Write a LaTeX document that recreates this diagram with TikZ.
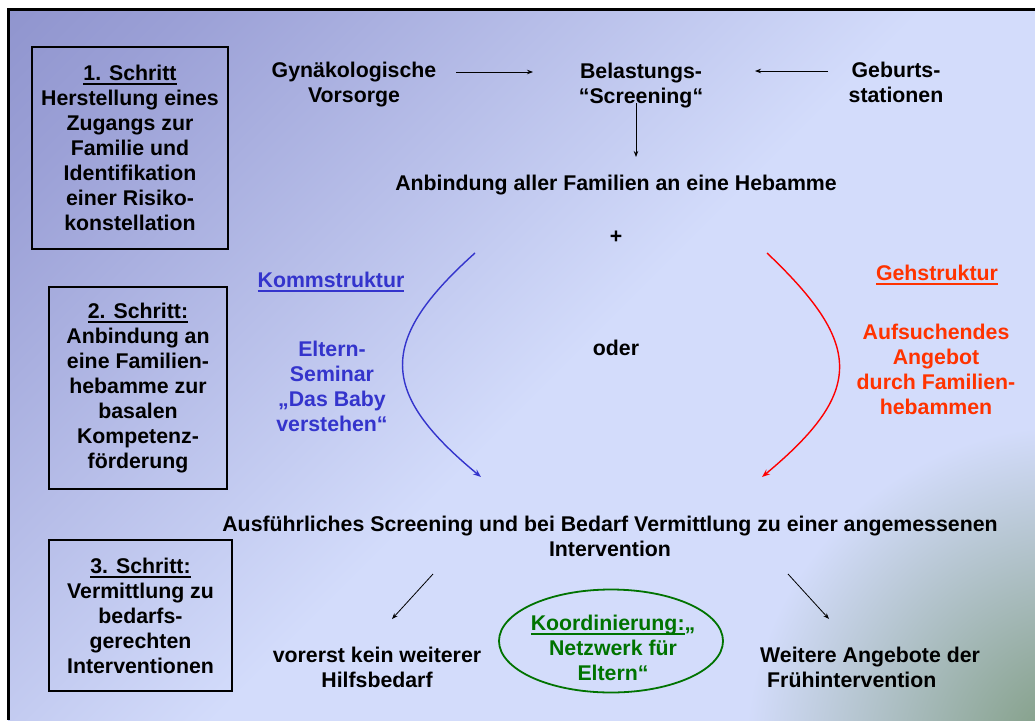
\documentclass[tikz,border=0pt]{standalone}
\usepackage{fontspec}
\setmainfont{Liberation Sans}
\usepackage{xcolor}
\usetikzlibrary{calc}
\usetikzlibrary{shapes.geometric}
\usetikzlibrary{arrows.meta}
\pgfdeclarelayer{bg}
\pgfsetlayers{bg,main}
\definecolor{bgdeep}{HTML}{7A7FBF}
\definecolor{bgdark}{HTML}{9BA0D6}
\definecolor{bglight}{HTML}{D3DCFB}
\definecolor{cgreen}{HTML}{7A987A}
\definecolor{kommblue}{HTML}{3434CC}
\definecolor{gehred}{HTML}{FF3300}
\definecolor{netzgreen}{HTML}{007300}
\pgfdeclarehorizontalshading{slidebg}{100bp}{color(0bp)=(bgdeep); color(22bp)=(bgdark); color(52bp)=(bglight); color(100bp)=(bglight)}
\pgfdeclareradialshading{cornerbg}{\pgfpoint{0bp}{0bp}}{color(0bp)=(cgreen); color(25bp)=(bglight); color(50bp)=(bglight)}
\newcommand{\ulin}[1]{\setbox0\hbox{#1}\rlap{\rule[-4.6pt]{\wd0}{2pt}}\box0}

\begin{document}
\begin{tikzpicture}[x=1pt, y=-1pt,
  txt/.style={font=\fontsize{21.3}{25}\selectfont\bfseries, align=center, inner sep=0pt},
  stepbox/.style={txt, draw, line width=2pt},
  arr/.style={-{Stealth[length=6pt,width=4.5pt]}, line width=0.8pt},
  bow/.style={-{Stealth[length=8pt,width=6pt]}, line width=1.4pt}]
\useasboundingbox (0,0) rectangle (1035,720);
\begin{scope}
  % steps
  \node[stepbox, minimum width=196pt, minimum height=202pt] (step1) at (130,148) {\ulin{1. Schritt}\\Herstellung eines\\Zugangs zur\\Familie und\\Identifikation\\einer Risiko-\\konstellation}; %Schritt 1
  \node[stepbox, minimum width=178pt, minimum height=202pt] (step2) at (138,388) {\ulin{2. Schritt:}\\Anbindung an\\eine Familien-\\hebamme zur\\basalen\\Kompetenz-\\förderung}; %Schritt 2
  \node[stepbox, minimum width=183pt, minimum height=151pt] (step3) at (140.5,615.5) {\ulin{3. Schritt:}\\Vermittlung zu\\bedarfs-\\gerechten\\Interventionen}; %Schritt 3
  % first row
  \node[txt] (gyn) at (354,85) {Gynäkologische\\Vorsorge};
  \node[txt] (bel) at (641,86) {Belastungs-\\“Screening“};
  \node[txt] (geb) at (896,82) {Geburts-\\stationen};
  \node[txt] (anb) at (616,185) {Anbindung aller Familien an eine Hebamme};
  \node[txt] (plus) at (616,237) {+};
  % komm / geh
  \node[txt, text=kommblue] (komm) at (331,282) {\ulin{Kommstruktur}};
  \node[txt, text=kommblue] (semi) at (332,386) {Eltern-\\Seminar\\„Das Baby\\verstehen“};
  \node[txt] (oder) at (616,348) {oder};
  \node[txt, text=gehred] (geh) at (937,275) {\ulin{Gehstruktur}};
  \node[txt, text=gehred] (aufs) at (936,369) {Aufsuchendes\\Angebot\\durch Familien-\\hebammen};
  % bottom
  \node[txt] (aus) at (610,536) {Ausführliches Screening und bei Bedarf Vermittlung zu einer angemessenen\\Intervention};
  \node[txt] (vor) at (377,667) {vorerst kein weiterer\\Hilfsbedarf};
  \node[draw=netzgreen, line width=1.8pt, ellipse, minimum width=224pt, minimum height=103pt] (netzring) at (611,641) {}; %Ellipse
  \node[txt, text=netzgreen] (netz) at (613,648) {\ulin{Koordinierung:}„\\Netzwerk für\\Eltern“};
  \node[txt, align=left, anchor=west] (wei) at (760,667) {Weitere Angebote der\\\hspace*{7pt}Frühintervention};
  % connector ends
  \coordinate (gynout) at (456,72);
  \coordinate (belin1) at (533,72);
  \coordinate (gebout) at (828,71);
  \coordinate (belin2) at (755,71);
  \coordinate (belout) at (636,103);
  \coordinate (anbin) at (636,157);
  \coordinate (kommtop) at (475,253);
  \coordinate (kommend) at (481,477);
  \coordinate (gehtop) at (767,253);
  \coordinate (gehend) at (762,477);
  \coordinate (ausl) at (433,574);
  \coordinate (vorin) at (392,619);
  \coordinate (ausr) at (788,574);
  \coordinate (weiin) at (829,619);
  \draw[arr] (gynout) -- (belin1);
  \draw[arr] (gebout) -- (belin2);
  \draw[arr] (belout) -- (anbin);
  \draw[bow, draw=kommblue] (kommtop) .. controls (378,340) and (378,392) .. (kommend);
  \draw[bow, draw=red] (gehtop) .. controls (864,345) and (864,392) .. (gehend);
  \draw[arr] (ausl) -- (vorin);
  \draw[arr] (ausr) -- (weiin);
\begin{pgfonlayer}{bg}
  \fill[white] (0,0) rectangle (1035,720);
  \shade[shading=slidebg, shading angle=-45] (8,9) rectangle (1035,720);
  \begin{scope}
    \clip (8,9) rectangle (1035,720);
    \shade[shading=cornerbg] (1075,755) circle (330);
  \end{scope}
  \draw[line width=3pt] (1035,9) -- (8,9) -- (8,720);
\end{pgfonlayer}
\end{scope}
\end{tikzpicture}
\end{document}
